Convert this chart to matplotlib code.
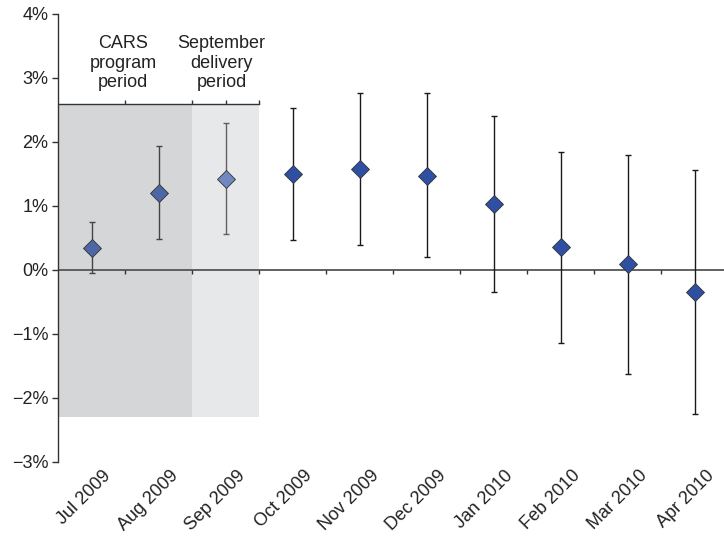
import matplotlib
matplotlib.use("Agg")
import matplotlib.pyplot as plt
import matplotlib.transforms as mtransforms
import numpy as np

plt.rcParams['font.family'] = ['Liberation Sans', 'DejaVu Sans']

months = ["Jul 2009", "Aug 2009", "Sep 2009", "Oct 2009", "Nov 2009",
          "Dec 2009", "Jan 2010", "Feb 2010", "Mar 2010", "Apr 2010"]
estimate = [0.35, 1.21, 1.42, 1.50, 1.58, 1.47, 1.03, 0.36, 0.09, -0.35]
upper = [0.75, 1.94, 2.30, 2.53, 2.77, 2.76, 2.41, 1.85, 1.79, 1.56]
lower = [-0.05, 0.49, 0.56, 0.47, 0.39, 0.20, -0.35, -1.14, -1.63, -2.25]
yticks = [-3, -2, -1, 0, 1, 2, 3, 4]
ytick_labels = ["\u22123%", "\u22122%", "\u22121%", "0%", "1%", "2%", "3%", "4%"]

marker_colors = ["#4d66a6", "#4d66a6", "#7088bf"] + ["#2f4fa3"] * 7
bar_colors = ["#444444", "#444444", "#606060"] + ["#1a1a1a"] * 7

fig = plt.figure(figsize=(7.24, 5.36), dpi=100)
ax = fig.add_axes([58/724, 74/536, 666/724, 448/536])

x = np.arange(len(months))
ax.set_xlim(-0.5, 9.44)
ax.set_ylim(-3, 4)

# shaded periods
ax.fill_between([-0.5, 1.5], -2.3, 2.6, color="#d5d6d8", lw=0, zorder=0)
ax.fill_between([1.5, 2.5], -2.3, 2.6, color="#e7e8ea", lw=0, zorder=0)
ax.plot([-0.5, 2.5], [2.6, 2.6], color="#333333", lw=1.0, zorder=1)
ax.vlines([0.5, 1.5, 2.0, 2.5], 2.6, 2.65, color="#333333", lw=1.0, zorder=1)

ax.text(0.47, 3.23, "CARS\nprogram\nperiod", ha="center", va="center",
        fontsize=13, color="#222222", linespacing=1.2)
ax.text(1.94, 3.23, "September\ndelivery\nperiod", ha="center", va="center",
        fontsize=13, color="#222222", linespacing=1.2)

# zero line and category ticks
ax.axhline(0, color="#555555", lw=1.3, zorder=2)
ax.vlines(np.arange(0.5, 9.5, 1.0), -0.06, 0, color="#333333", lw=1.0, zorder=2)

for i in range(len(months)):
    e = estimate[i]
    ax.errorbar(x[i], e, yerr=[[e - lower[i]], [upper[i] - e]],
                fmt="none", ecolor=bar_colors[i], elinewidth=1.0,
                capsize=2.2, capthick=1.0, zorder=3)
    ax.plot(x[i], e, marker="D", markersize=9, color=marker_colors[i],
            markeredgecolor="#333333", markeredgewidth=0.6, zorder=4)

ax.spines["top"].set_visible(False)
ax.spines["right"].set_visible(False)
ax.spines["bottom"].set_visible(False)
ax.spines["left"].set_color("#333333")
ax.spines["left"].set_linewidth(1.0)

ax.set_yticks(yticks)
ax.set_yticklabels(ytick_labels, fontsize=13, color="#222222")
ax.tick_params(axis="y", length=4, width=1.0, color="#333333", pad=3)

ax.set_xticks(x)
ax.set_xticklabels(months, rotation=45, ha="right", rotation_mode="anchor",
                   fontsize=13, color="#222222")
ax.tick_params(axis="x", length=0, pad=5)
offset = mtransforms.ScaledTranslation(0.11, 0.02, fig.dpi_scale_trans)
for lab in ax.get_xticklabels():
    lab.set_transform(lab.get_transform() + offset)

fig.savefig("out.png", dpi=100)
